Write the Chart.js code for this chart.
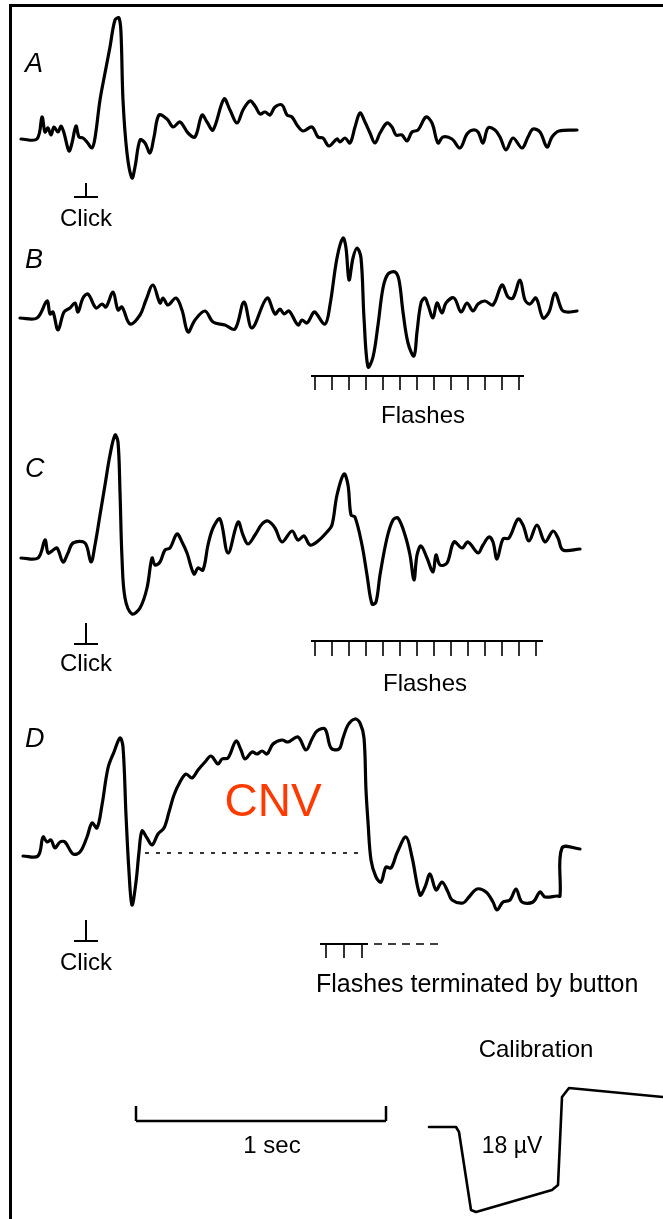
<!DOCTYPE html>
<html>
<head>
<meta charset="utf-8">
<script src="https://cdn.jsdelivr.net/npm/chart.js@4.4.1/dist/chart.umd.min.js"></script>
<style>
  html, body { margin: 0; padding: 0; background: #fff; }
  #wrap { position: relative; width: 663px; height: 1219px; overflow: hidden; }
  #erp { position: absolute; left: 0; top: 0; }
  #frame { position: absolute; left: 9px; top: 4px; width: 700px; height: 1300px;
           border-left: 3px solid #000; border-top: 3px solid #000; pointer-events: none; }
</style>
</head>
<body>
<div id="wrap">
  <canvas id="erp" width="663" height="1219"></canvas>
  <div id="frame"></div>
</div>
<script>
// time in ms from the click, amplitude in µV (positive = up)
const traceA = [
  [-260,0],[-196,0],[-176,4.4],[-164,1.4],[-152,2.2],[-140,0.8],[-128,2.4],[-112,1.4],[-100,2.6],[-88,1.2],
  [-68,-2.4],[-56,-0.8],[-40,2.6],[-28,0.4],[-12,0.2],[4,-0.6],[24,-1.8],[36,0.2],[56,7.8],[76,13.2],
  [96,18.4],[116,23.8],[132,24.2],[140,21.2],[148,7.8],[164,-2.8],[184,-7.8],[196,-5.6],[216,-0.2],[236,-0.8],
  [256,-2.8],[272,0.4],[292,4.8],[324,4.0],[348,2.4],[376,3.4],[408,1.2],[436,0.4],[464,4.8],[484,3.4],
  [508,1.8],[552,8.0],[576,5.8],[604,3.2],[628,5.8],[656,7.6],[676,6.6],[696,5.0],[716,5.4],[736,4.8],
  [756,6.4],[784,6.8],[804,4.8],[824,4.4],[844,2.8],[868,1.6],[904,2.4],[928,0.4],[948,0.2],[972,-1.4],
  [1004,0],[1016,-0.6],[1036,0.2],[1056,-0.8],[1076,2.4],[1096,5.2],[1116,3.4],[1136,1.2],[1156,-0.8],[1176,1.2],
  [1204,3.2],[1224,2.4],[1240,0.8],[1264,0.8],[1284,-0.4],[1304,1.4],[1328,1.8],[1360,4.4],[1384,3.2],[1408,-0.8],
  [1428,0.4],[1464,0],[1496,-1.8],[1524,1.0],[1548,1.8],[1568,1.4],[1588,-0.8],[1608,2.2],[1636,1.8],[1656,0.4],
  [1680,-2.2],[1708,0.2],[1744,-1.8],[1768,0.4],[1788,2.0],[1816,1.4],[1844,-1.6],[1864,0.4],[1892,1.6],[1964,1.8]
];
const traceB = [
  [-264,0],[-196,0],[-156,3.4],[-144,0.8],[-132,1.2],[-112,-2.4],[-88,1.2],[-64,2.0],[-44,3.0],[-32,1.2],
  [-12,4.0],[8,4.8],[40,2.0],[64,2.8],[80,2.2],[108,5.2],[128,1.6],[144,2.2],[176,-1.2],[216,0.6],
  [240,3.6],[268,6.6],[296,3.0],[308,4.0],[328,2.6],[360,4.0],[384,1.6],[408,-2.8],[436,-0.4],[476,1.4],
  [508,-0.8],[556,-1.4],[596,-2.2],[632,3.2],[664,-2.0],[724,4.0],[756,0.8],[776,1.8],[792,0.8],[812,1.4],
  [848,-1.4],[864,-0.4],[884,-1.0],[908,1.0],[916,1.2],[956,-1.2],[976,2.6],[1004,12.0],[1028,16.0],[1040,14.0],
  [1052,7.6],[1068,12.0],[1084,14.0],[1100,12.0],[1112,0],[1128,-9.8],[1148,-7.8],[1168,-1.4],[1188,6.0],[1208,8.8],
  [1236,9.2],[1252,7.6],[1268,1.2],[1288,-5.0],[1312,-7.6],[1324,-2.8],[1340,3.0],[1356,4.0],[1368,2.6],[1388,0],
  [1404,3.0],[1424,1.0],[1440,3.0],[1472,4.0],[1500,1.2],[1524,3.0],[1548,1.4],[1568,2.8],[1596,3.4],[1628,2.6],
  [1664,6.6],[1688,4.2],[1708,4.0],[1736,7.6],[1756,3.6],[1776,2.8],[1800,4.0],[1828,0],[1852,1.2],[1876,5.0],
  [1904,1.6],[1924,1.2],[1964,1.4]
];
const traceC = [
  [-260,0],[-192,0],[-164,3.6],[-152,1.0],[-136,1.4],[-116,2.0],[-92,-0.8],[-72,1.0],[-52,3.0],[-4,3.0],
  [20,-0.8],[36,2.6],[56,8.6],[76,14.6],[96,20.6],[116,24.6],[128,23.2],[136,13.2],[144,0],[156,-8.0],
  [184,-11.2],[216,-10.0],[244,-6.0],[264,0],[276,-1.4],[296,-0.8],[316,1.6],[336,2.0],[364,4.8],[384,3.2],
  [404,1.0],[432,-3.2],[448,-2.0],[468,-2.4],[488,2.6],[508,6.0],[536,7.8],[568,1.0],[608,7.2],[628,4.6],
  [648,2.8],[676,4.6],[704,6.8],[728,7.4],[756,6.0],[784,3.2],[824,5.4],[848,3.6],[872,4.4],[896,2.6],
  [928,3.4],[964,5.2],[984,6.6],[1004,12.6],[1032,16.8],[1048,14.6],[1060,8.6],[1076,8.2],[1104,2.6],[1124,-3.4],
  [1144,-9.2],[1160,-8.8],[1176,-3.4],[1204,4.0],[1228,7.6],[1248,8.0],[1276,4.6],[1296,0.6],[1312,-4.4],[1324,0.6],
  [1340,2.4],[1364,0],[1388,-2.8],[1400,0.6],[1416,-1.4],[1444,-1.0],[1472,3.2],[1504,2.0],[1528,3.2],[1568,1.0],
  [1588,2.6],[1612,4.2],[1628,3.2],[1644,-0.2],[1668,3.8],[1692,4.0],[1728,7.8],[1748,6.6],[1772,3.4],[1804,6.6],
  [1836,3.2],[1868,5.4],[1888,4.0],[1908,1.6],[1976,1.8]
];
const traceD = [
  [-252,0],[-192,0],[-172,3.8],[-156,2.8],[-140,3.2],[-124,1.6],[-104,2.8],[-84,2.8],[-52,0.4],[-24,0.8],
  [4,3.8],[24,6.6],[44,5.6],[64,10.2],[88,17.6],[112,20.8],[136,23.6],[148,21.8],[160,8.2],[172,-3.2],
  [184,-9.8],[200,-5.2],[212,0.8],[224,5.0],[244,3.6],[264,2.2],[288,4.4],[312,5.6],[332,8.8],[352,12.2],
  [376,14.8],[400,16.4],[424,15.6],[448,17.2],[476,18.8],[500,20.0],[528,18.4],[544,19.4],[568,19.6],[600,23.0],
  [620,21.2],[636,19.4],[664,20.8],[684,20.4],[704,21.0],[724,20.4],[748,22.4],[784,23.2],[808,22.8],[848,23.8],
  [880,21.2],[904,23.4],[924,25.0],[956,25.4],[980,21.6],[1012,21.4],[1028,23.6],[1048,26.2],[1076,27.4],[1096,26.6],
  [1112,23.6],[1120,13.2],[1128,6.8],[1140,-0.8],[1160,-4.2],[1180,-5.2],[1200,-2.2],[1220,-2.4],[1244,0.6],[1280,3.8],
  [1304,-0.2],[1336,-7.8],[1356,-6.2],[1376,-3.6],[1400,-6.8],[1424,-5.2],[1448,-7.2],[1464,-8.8],[1508,-9.4],[1532,-8.2],
  [1564,-6.6],[1600,-7.2],[1628,-9.2],[1644,-10.8],[1668,-9.2],[1696,-8.8],[1720,-6.6],[1744,-9.2],[1788,-9.2],[1816,-7.2],
  [1836,-8.2],[1884,-8.0],[1896,-8.0],[1904,1.6],[1976,1.4]
];
// 18 µV calibration pulse
const calibration = [
  [1372,0],[1480,0],[1492,-1.0],[1540,-16.6],[1560,-17.0],[1864,-12.6],[1888,-11.6],[1904,6.0],[1932,7.8],[2308,6.0]
];

const clickTime = 0;
const flashesB = [916,984,1052,1120,1188,1256,1324,1392,1460,1528,1596,1664,1732];
const flashesC = [916,984,1052,1120,1188,1256,1324,1392,1460,1528,1596,1664,1732,1800];
const flashesD = [960,1032,1104];

// vertical placement of each record on the shared µV axis
const offsets = { A: -27.8, B: -63.6, C: -111.6, D: -171.2, cal: -225.4 };
const shift = (pts, off) => pts.map(([t, v]) => ({ x: t, y: v + off }));

const traceStyle = {
  borderColor: '#000', borderWidth: 3.2, pointRadius: 0, tension: 0.35,
  borderJoinStyle: 'round', borderCapStyle: 'round', clip: false
};

const FONT = '"Liberation Sans", Arial, Helvetica, sans-serif';

const annotate = {
  id: 'annotate',
  afterDatasetsDraw(chart) {
    const { ctx, scales: { x, y } } = chart;
    const X = t => x.getPixelForValue(t);
    const Y = v => y.getPixelForValue(v);
    const seg = (t0, v0, t1, v1) => { ctx.beginPath(); ctx.moveTo(X(t0), Y(v0)); ctx.lineTo(X(t1), Y(v1)); ctx.stroke(); };
    const text = (s, t, v, align, font, color) => {
      ctx.font = font; ctx.fillStyle = color || '#000';
      ctx.textAlign = align; ctx.textBaseline = 'middle';
      ctx.fillText(s, X(t), Y(v));
    };
    ctx.save();
    ctx.strokeStyle = '#000';

    // record letters
    [['A', -14.4], ['B', -53.6], ['C', -95.4], ['D', -149.4]].forEach(([s, v]) => {
      ctx.font = 'italic 27px ' + FONT; ctx.fillStyle = '#000';
      ctx.textAlign = 'left'; ctx.textBaseline = 'alphabetic';
      ctx.fillText(s, X(-244), Y(v));
    });

    // click markers
    [[-36.6, -39.4, -43.8], [-124.6, -128.8, -132.8], [-184.0, -188.2, -192.6]].forEach(([top, base, lab]) => {
      ctx.lineWidth = 2;
      seg(clickTime, top, clickTime, base);
      seg(clickTime - 48, base, clickTime + 48, base);
      text('Click', clickTime, lab, 'center', '24px ' + FONT);
    });

    // flash trains
    const train = (times, bar, tip, from, to) => {
      ctx.lineWidth = 2;
      seg(from, bar, to, bar);
      ctx.lineWidth = 1.6;
      times.forEach(t => seg(t, bar, t, tip));
    };
    train(flashesB, -75.2, -78.0, 900, 1752);
    text('Flashes', 1348, -83.2, 'center', '24px ' + FONT);
    train(flashesC, -128.2, -131.2, 900, 1828);
    text('Flashes', 1356, -136.8, 'center', '24px ' + FONT);
    train(flashesD, -188.8, -191.6, 936, 1128);
    ctx.lineWidth = 1.6;
    ctx.setLineDash([8, 6]);
    seg(1152, -188.8, 1432, -188.8);
    ctx.setLineDash([]);
    text('Flashes terminated by button', 920, -197.0, 'left', '25px ' + FONT);

    // CNV baseline
    ctx.lineWidth = 2;
    ctx.strokeStyle = '#333';
    ctx.setLineDash([4, 7]);
    seg(236, offsets.D + 0.6, 1088, offsets.D + 0.6);
    ctx.setLineDash([]);
    ctx.strokeStyle = '#000';
    text('CNV', 748, -160.6, 'center', '46px ' + FONT, '#ff3a00');

    // time scale bar
    ctx.lineWidth = 2.5;
    seg(200, -224.2, 1200, -224.2);
    seg(200, -224.2, 200, -221.2);
    seg(1200, -224.2, 1200, -221.2);
    text('1 sec', 744, -229.2, 'center', '24px ' + FONT);

    text('Calibration', 1800, -210.0, 'center', '24px ' + FONT);
    text('18 \u00b5V', 1704, -229.4, 'center', '23px ' + FONT);
    ctx.restore();
  }
};

new Chart(document.getElementById('erp'), {
  type: 'line',
  data: {
    datasets: [
      { label: 'A', data: shift(traceA, offsets.A), ...traceStyle },
      { label: 'B', data: shift(traceB, offsets.B), ...traceStyle },
      { label: 'C', data: shift(traceC, offsets.C), ...traceStyle },
      { label: 'D', data: shift(traceD, offsets.D), ...traceStyle },
      { label: 'Calibration', data: shift(calibration, offsets.cal), ...traceStyle,
        borderWidth: 2.6, tension: 0 }
    ]
  },
  options: {
    responsive: false,
    animation: false,
    devicePixelRatio: 1,
    layout: { padding: 0 },
    plugins: { legend: { display: false }, tooltip: { enabled: false } },
    scales: {
      x: { type: 'linear', min: -344, max: 2308, display: false },
      y: { type: 'linear', min: -243.8, max: 0, display: false }
    }
  },
  plugins: [annotate]
});
</script>
</body>
</html>
